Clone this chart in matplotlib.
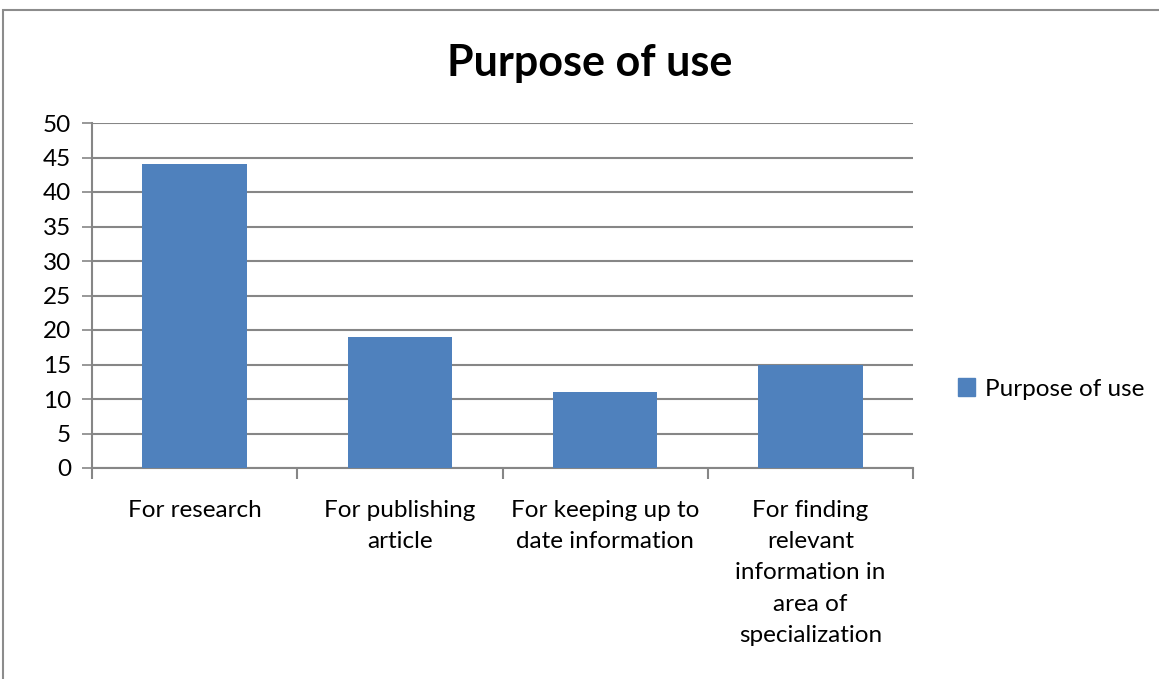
import matplotlib
matplotlib.use('Agg')
import matplotlib.pyplot as plt
from matplotlib.patches import Rectangle, Patch
import numpy as np

# ── 数据 ──────────────────────────────────────────────────────────────
categories = ['For research', 'For publishing\narticle',
              'For keeping up to\ndate information',
              'For finding\nrelevant\ninformation in\narea of\nspecialization']
values = [44, 19, 11, 15]
series_name = 'Purpose of use'
title = 'Purpose of use'
yticks = list(range(0, 55, 5))

BAR_COLOR = '#4F81BD'
GRID_COLOR = '#868686'
FS = 17.5

plt.rcParams['font.family'] = ['Lato', 'DejaVu Sans']

W, H = 1159, 679
fig = plt.figure(figsize=(W / 100, H / 100), dpi=100)
fig.patch.set_facecolor('white')

# 外框
fig.patches.append(Rectangle((3 / W, -0.1), 1.2, 1 - 10 / H + 0.1,
                             transform=fig.transFigure, fill=False,
                             edgecolor='#8c8c8c', linewidth=1.5))

ax = fig.add_axes([92 / W, 1 - 468 / H, (913 - 92) / W, (468 - 123) / H])
x = np.arange(len(categories))
ax.bar(x, values, width=0.51, color=BAR_COLOR, zorder=3)

ax.set_xlim(-0.5, len(categories) - 0.5)
ax.set_ylim(0, 50)
ax.set_yticks(yticks)
ax.set_yticklabels([str(t) for t in yticks], fontsize=FS)
ax.yaxis.grid(True, color=GRID_COLOR, linewidth=1.5, zorder=0)
ax.tick_params(axis='y', length=7, width=1.2, color=GRID_COLOR, pad=8)

# x 轴：分类边界处的刻度
ax.set_xticks(np.arange(-0.5, len(categories), 1.0))
ax.set_xticklabels([])
ax.tick_params(axis='x', length=8, width=1.5, color=GRID_COLOR)
for xi, lab in zip(x, categories):
    ax.text(xi, -0.093, lab, transform=ax.get_xaxis_transform(),
            ha='center', va='top', fontsize=FS, linespacing=1.6)

for s in ['top', 'right']:
    ax.spines[s].set_visible(False)
for s in ['left', 'bottom']:
    ax.spines[s].set_color(GRID_COLOR)
    ax.spines[s].set_linewidth(1.5)

fig.text(590 / W, 1 - 63 / H, title, ha='center', va='center',
         fontsize=31, fontweight='bold')

fig.legend(handles=[Patch(color=BAR_COLOR, label=series_name)],
           loc='center left', bbox_to_anchor=(936 / W, 1 - 389 / H),
           frameon=False, fontsize=FS, handlelength=0.7, handleheight=0.7,
           handletextpad=0.4)

fig.savefig('out.png', dpi=100)
